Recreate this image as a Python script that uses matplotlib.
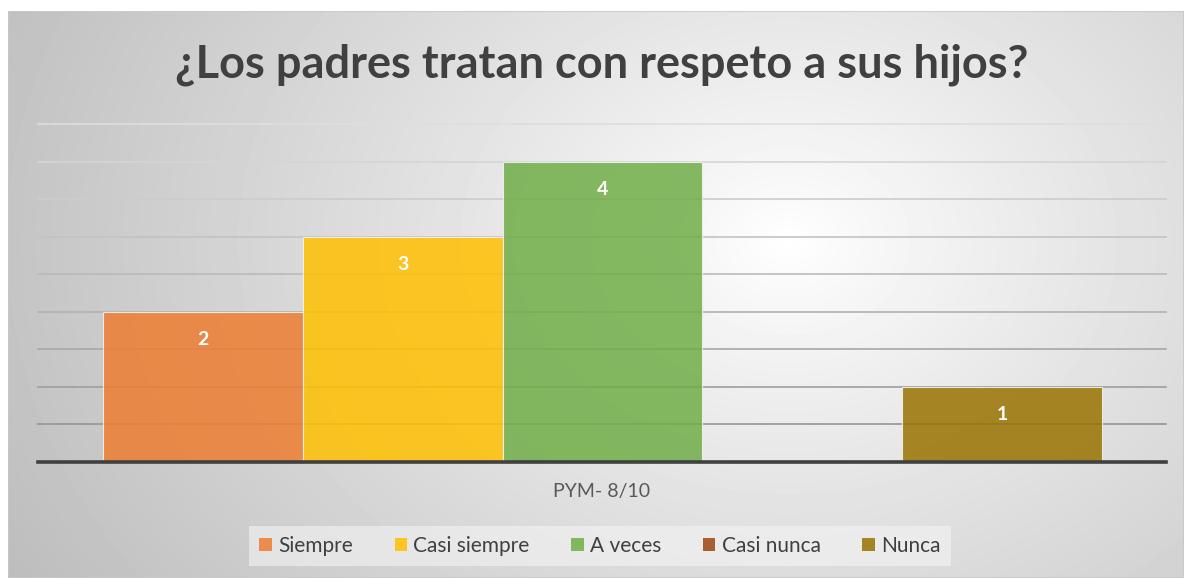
import numpy as np
import matplotlib
matplotlib.use("Agg")
import matplotlib.pyplot as plt
from matplotlib.patches import Patch, Rectangle

# datos del grafico
categorias = ["Siempre", "Casi siempre", "A veces", "Casi nunca", "Nunca"]
valores = [2, 3, 4, 0, 1]
colores = ["#ED7D31", "#FFC000", "#70AD47", "#9E480E", "#997300"]
titulo = "¿Los padres tratan con respeto a sus hijos?"
etiqueta_x = "PYM- 8/10"

plt.rcParams['font.family'] = ['Lato', 'DejaVu Sans']

W, H = 1184, 578
fig = plt.figure(figsize=(W / 100, H / 100), dpi=100)
fig.patch.set_facecolor("white")

# fondo con degradado radial
bg = fig.add_axes([8 / W, 0, 1 - 8 / W, (H - 11) / H])
bg.set_axis_off()
yy, xx = np.mgrid[0:567, 0:1176]
cx, cy = 780, 230
r = np.sqrt((xx - cx) ** 2 + ((yy - cy) * 1.3) ** 2)
r = r / r.max()
img = 1.0 - 0.26 * np.clip(r, 0, 1) ** 0.9
bg.imshow(img, cmap="gray", vmin=0, vmax=1, aspect="auto", interpolation="bilinear")
bg.add_patch(Rectangle((0, 0), 1, 1, transform=bg.transAxes, fill=False,
                       edgecolor="#c8c8c8", lw=1.2))

ax = fig.add_axes([38 / W, (H - 462) / H, (1166 - 38) / W, (462 - 124) / H])
ax.patch.set_alpha(0)
ax.set_ylim(0, 4.5)
ax.set_xlim(-0.825, 4.82)

# lineas de cuadricula (mas claras arriba)
niveles = np.arange(0.5, 4.51, 0.5)
for lv in niveles:
    t = lv / 4.5
    g = 0.55 + 0.32 * t
    ax.axhline(lv, color=(g, g, g), lw=1.2, zorder=1, clip_on=False)

x = np.arange(len(categorias))
ax.bar(x, valores, width=1.0, color=colores, alpha=0.85, edgecolor="#f4f4f4",
       linewidth=0.8, zorder=2)
for xi, v in zip(x, valores):
    if v > 0:
        ax.text(xi, v - 0.37, str(v), ha="center", va="center", color="white",
                fontsize=14, fontweight="bold", zorder=3)

ax.axhline(0, color="#404040", lw=2.6, zorder=4, clip_on=False)
for s in ax.spines.values():
    s.set_visible(False)
ax.set_xticks([])
ax.set_yticks([])

fig.text(602 / W, 1 - 65 / H, titulo, ha="center", va="center", fontsize=32.5,
         fontweight="bold", color="#404040")
fig.text(602 / W, 1 - 492 / H, etiqueta_x, ha="center", va="center",
         fontsize=14, color="#595959")

handles = [Patch(facecolor=c, alpha=0.85, edgecolor="none") for c in colores]
leg = fig.legend(handles, categorias, loc="center", ncol=5,
                 bbox_to_anchor=(600 / W, 1 - 546 / H), frameon=True,
                 fontsize=15, handlelength=0.6, handleheight=0.6,
                 handletextpad=0.3, columnspacing=2.0, borderpad=0.5,
                 fancybox=False)
leg.get_frame().set_facecolor("#f4f4f4")
leg.get_frame().set_alpha(0.6)
leg.get_frame().set_edgecolor("none")
for t in leg.get_texts():
    t.set_color("#404040")

fig.savefig("out.png", dpi=100)
